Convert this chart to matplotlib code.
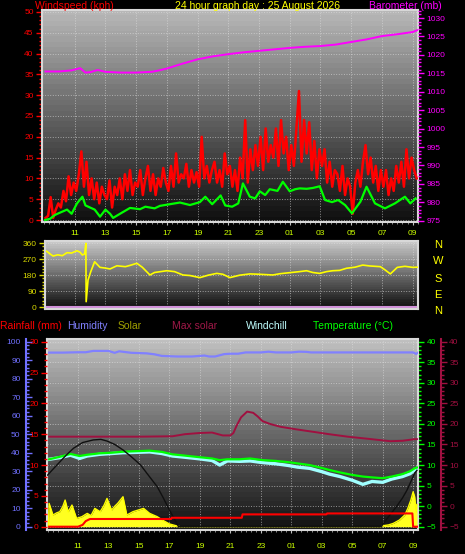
import numpy as np
import matplotlib.pyplot as plt
from matplotlib.ticker import MultipleLocator, FixedLocator

plt.rcParams['font.family'] = ['Liberation Sans', 'DejaVu Sans']

# ---------------- data (hours of day, values > 24 are the next morning)
# wind gust (kph), one reading every 10 minutes from 09:06
gust = [0.5, 1.0, 5.5, 0.5, 2.5, 4.0,
        3.0, 7.0, 4.5, 10.5, 6.0, 9.0,
        7.0, 11.0, 16.5, 8.0, 14.0, 6.0,
        10.0, 5.0, 9.0, 4.0, 8.0, 6.0,
        5.0, 9.5, 3.0, 8.0, 6.0, 10.0,
        5.0, 11.0, 7.0, 12.0, 6.0, 9.0,
        8.0, 12.0, 6.0, 10.0, 13.0, 7.0,
        11.0, 6.0, 10.0, 8.0, 12.5, 9.0,
        7.0, 13.0, 8.0, 16.0, 9.0, 11.0,
        10.0, 13.5, 8.0, 12.0, 9.0, 11.5,
        8.0, 20.0, 10.0, 13.0, 9.0, 12.0,
        14.0, 9.0, 12.0, 8.0, 16.0, 11.0,
        13.0, 8.0, 12.0, 7.0, 15.0, 10.0,
        24.0, 9.0, 17.0, 12.0, 18.0, 13.0,
        20.0, 12.0, 22.0, 14.0, 18.0, 15.0,
        22.0, 13.0, 24.0, 16.0, 20.0, 12.0,
        18.0, 13.0, 22.0, 31.0, 14.0, 24.0,
        16.0, 23.5, 12.0, 19.0, 10.0, 17.0,
        13.0, 17.0, 9.0, 14.0, 8.0, 12.0,
        11.0, 7.0, 13.0, 6.0, 10.0, 8.0,
        1.5, 9.0, 12.0, 8.0, 14.0, 18.0,
        11.0, 15.0, 9.0, 13.0, 7.0, 12.0,
        8.0, 12.0, 6.0, 10.0, 7.0, 13.0,
        9.0, 14.0, 8.0, 17.0, 10.0, 15.0,
        12.0, 10.0]
gust_t = 9.1 + np.arange(len(gust)) / 6

avg_t = [9.07, 9.4, 9.7, 10.0, 10.5, 10.8, 11.15, 11.5, 11.7, 12.0, 12.3, 12.65,
         13.0, 13.3, 13.5, 13.95, 14.6, 15.25, 15.6, 16.2, 16.55, 17.2, 17.85,
         18.5, 19.15, 19.5, 19.95, 20.5, 20.8, 21.25, 21.65, 21.95, 22.4, 22.75,
         23.05, 23.4, 23.7, 24.2, 24.55, 25.0, 25.35, 25.65, 26.1, 26.5, 26.95,
         27.3, 27.75, 28.15, 28.6, 29.05, 29.6, 30.0, 30.55, 31.2, 31.85, 32.5,
         32.85, 33.2]
avg_speed = [0.0, 0.3, 1.2, 1.7, 2.5, 1.5, 4.0, 5.6, 3.5, 3.0, 2.5, 0.8,
             2.5, 1.5, 0.5, 1.5, 2.9, 2.6, 3.2, 2.8, 3.4, 3.8, 4.2,
             3.6, 4.3, 5.6, 3.8, 5.9, 3.5, 3.2, 4.0, 8.8, 5.6, 5.2,
             6.9, 6.0, 7.4, 7.0, 9.2, 6.9, 7.4, 7.6, 7.5, 7.7, 8.1,
             4.8, 4.3, 4.8, 3.6, 1.6, 4.4, 8.0, 4.0, 2.8, 4.0, 5.6,
             4.0, 5.2]

baro_t = [9.1, 10.0, 10.8, 11.35, 11.7, 12.0, 12.5, 13.0, 14.0, 15.0, 16.0, 16.5,
          17.0, 18.0, 19.0, 20.0, 21.0, 22.0, 23.0, 24.0, 25.0, 26.0, 27.0,
          28.0, 29.0, 30.0, 31.0, 32.0, 33.0, 33.3]
baro = [1015.5, 1015.5, 1015.8, 1016.4, 1015.2, 1015.3, 1015.9, 1015.4, 1015.2,
        1015.2, 1015.4, 1015.8, 1016.3, 1017.6, 1018.8, 1019.6, 1020.2, 1020.7,
        1021.1, 1021.5, 1021.9, 1022.2, 1022.4, 1022.8, 1023.5, 1024.2, 1025.1,
        1025.6, 1026.2, 1026.7]

dir_t = [9.18, 9.4, 9.6, 9.9, 10.2, 10.5, 10.8, 11.15, 11.35, 11.5, 11.65, 11.73,
         11.75, 11.87, 12.05, 12.3, 12.65, 13.0, 13.3, 13.75, 14.3, 14.6, 15.05,
         15.4, 15.9, 16.2, 17.0, 17.5, 18.05, 18.5, 19.15, 19.7, 20.25, 20.65,
         21.1, 21.75, 22.4, 23.05, 23.9, 24.35, 25.0, 25.65, 26.1, 26.5, 26.95,
         27.4, 27.8, 28.25, 28.7, 29.25, 29.75, 30.2, 30.9, 31.2, 31.55, 32.0,
         32.5, 33.0, 33.3]
wind_dir = [315, 300, 288, 295, 290, 307, 305, 318, 310, 294, 300, 360,
            30, 152, 200, 256, 224, 220, 215, 233, 228, 235, 247,
            225, 181, 195, 205, 200, 181, 178, 166, 180, 190, 185,
            166, 180, 187, 185, 181, 188, 194, 200, 205, 195, 190,
            200, 205, 207, 219, 225, 237, 232, 228, 210, 187, 224,
            230, 224, 225]

humid_t = [9.1, 10.0, 11.0, 11.5, 12.0, 13.0, 13.4, 13.7, 14.5, 15.5, 16.0, 16.5,
           17.5, 18.5, 19.3, 19.6, 20.0, 20.6, 21.0, 21.5, 22.0, 23.0, 23.5, 24.0,
           25.0, 25.5, 26.0, 26.3, 27.0, 28.0, 29.0, 30.0, 31.0, 32.0, 33.0, 33.2, 33.3]
humidity = [94.1, 94.1, 94.3, 94.3, 95.0, 95.0, 94.0, 94.8, 94.0, 93.7, 93.2, 92.3,
            92.0, 92.0, 92.5, 92.0, 92.0, 93.3, 93.5, 93.5, 94.2, 94.2, 94.6, 94.2,
            94.2, 94.6, 94.5, 94.2, 94.2, 94.2, 94.2, 94.2, 94.2, 94.2, 94.2, 93.4, 94.0]

temp_t = [9.1, 9.8, 10.5, 11.1, 11.6, 12.4, 13.2, 13.95, 15.0, 15.7, 16.5, 17.2,
          18.0, 19.0, 19.8, 20.3, 20.8, 21.6, 22.3, 23.1, 24.0, 24.8, 25.4, 26.2,
          27.0, 27.5, 28.2, 29.0, 29.7, 30.3, 31.0, 31.6, 32.3, 32.8, 33.1, 33.25]
temperature = [11.4, 12.0, 12.7, 12.2, 12.5, 12.85, 13.0, 13.25, 13.4, 13.5, 13.2, 12.6,
               12.3, 11.9, 11.6, 11.2, 11.4, 11.4, 11.6, 11.2, 11.0, 10.7, 10.4, 10.0,
               9.3, 8.8, 8.2, 7.6, 7.2, 7.0, 6.8, 7.2, 7.8, 8.5, 9.2, 9.4]
windchill = [11.4, 11.8, 12.4, 11.6, 12.2, 12.6, 12.8, 13.0, 13.1, 13.2, 12.8, 12.2,
             11.9, 11.5, 11.1, 10.0, 11.0, 10.9, 11.0, 10.6, 10.3, 9.9, 9.5, 9.2,
             8.4, 7.8, 7.2, 6.3, 5.3, 6.0, 5.8, 6.6, 7.2, 7.9, 8.8, 9.2]

red2_t = [9.1, 12.0, 15.0, 17.2, 18.0, 19.0, 19.8, 20.5, 21.0, 21.2, 21.4, 21.7,
          22.1, 22.5, 22.8, 23.1, 23.6, 24.3, 25.3, 26.4, 27.5, 28.7, 30.0, 31.0,
          31.5, 32.3, 33.1, 33.25]
red2 = [16.9, 16.9, 16.9, 17.0, 17.5, 17.8, 17.9, 17.2, 17.2, 17.8, 19.5, 21.6,
        23.0, 22.7, 21.8, 20.7, 20.0, 19.3, 18.7, 18.1, 17.5, 16.9, 16.4, 16.0,
        15.8, 15.9, 16.3, 16.3]

maxsol_t = [9.0, 9.4, 9.8, 10.2, 10.7, 11.3, 12.0, 12.5, 12.9, 13.4, 13.95, 14.5,
            15.1, 15.6, 16.2, 16.6, 17.0, 17.3, 17.6, 30.9, 31.3, 31.9, 32.3, 32.6,
            33.1, 33.25]
max_solar = [27.9, 31.5, 35.0, 38.5, 42.4, 45.5, 46.9, 47.2, 46.3, 44.5, 41.5, 37.8,
             33.4, 28.0, 21.6, 15.5, 9.0, 4.5, 0.0, 0.0, 4.5, 10.8, 15.5, 19.8,
             28.9, 30.5]

solar_t = [9.05, 9.1, 9.35, 9.6, 9.8, 10.0, 10.15, 10.35, 10.6, 10.9, 11.25, 11.6,
           11.85, 12.1, 12.45, 12.7, 12.9, 13.2, 13.4, 13.6, 13.95, 14.2, 14.6, 14.95,
           15.3, 15.7, 16.2, 16.6, 17.0, 17.4, 17.7, 30.9, 31.0, 31.4, 31.7, 32.1,
           32.45, 32.65, 32.85, 33.0, 33.1, 33.2, 33.25]
solar = [0, 12.6, 6.3, 7.5, 8.1, 11.0, 14.4, 8.1, 11.7, 4.5, 5.4, 7.2,
         6.0, 9.9, 8.1, 11.5, 15.3, 9.0, 11.0, 12.6, 16.2, 6.3, 8.1, 9.0,
         9.9, 7.2, 5.4, 3.3, 1.5, 0.6, 0.0, 0.0, 0.5, 1.0, 1.8, 3.6,
         6.3, 9.9, 14.4, 18.9, 16.2, 8.0, 12.0]

rain_t = [9.1, 11.0, 11.3, 11.5, 11.7, 11.8, 17.1, 17.15, 21.75, 21.8, 27.3, 27.35,
          32.95, 33.0, 33.3]
rain = [0, 0, 0.3, 0.9, 1.15, 1.25, 1.25, 1.45, 1.45, 2.0, 2.0, 2.15, 2.15, 0, 0]

hour_ticks = np.arange(11, 34, 2)
hour_labels = ['%02d' % (h % 24) for h in hour_ticks]

W, H = 465, 554
TICK_GREEN = '#ccff00'
FRAME = '#d8d8d8'


def box(l, t, r, b):
    return [l / W, 1 - b / H, (r - l) / W, (b - t) / H]


def gradient(ax, top, bottom):
    g = np.linspace(top, bottom, 40).reshape(-1, 1)
    ax.imshow(g, cmap='gray', vmin=0, vmax=255, aspect='auto', extent=[0, 1, 0, 1],
              transform=ax.transAxes, interpolation='nearest', zorder=0)


def frame(ax):
    ax.set_axisbelow(True)
    for s in ax.spines.values():
        s.set_color(FRAME)
        s.set_linewidth(1.5)
    ax.grid(True, which='major', color='#e0e0e0', linestyle=':', linewidth=0.7, alpha=0.6)


def hide_spines(ax, keep=()):
    for k, s in ax.spines.items():
        s.set_visible(k in keep)


def yticks(ax, color, major, minor, direction='out'):
    ax.yaxis.set_major_locator(MultipleLocator(major))
    ax.yaxis.set_minor_locator(MultipleLocator(minor))
    ax.tick_params(axis='y', which='major', colors=color, labelsize=6, length=4,
                   width=1, pad=2, direction=direction)
    ax.tick_params(axis='y', which='minor', colors=color, length=2, width=1,
                   direction=direction)


def xticks(ax, labels=True, pad=3):
    ax.xaxis.set_major_locator(FixedLocator(hour_ticks))
    ax.xaxis.set_minor_locator(MultipleLocator(1 / 3))
    ax.set_xticklabels(hour_labels)
    ax.tick_params(axis='x', which='major', colors='#c0c0c0', labelcolor=TICK_GREEN,
                   labelsize=6, length=2, pad=pad, labelbottom=labels)
    ax.tick_params(axis='x', which='minor', colors='#a0a0a0', length=1.5)


fig = plt.figure(figsize=(W / 100, H / 100), dpi=100, facecolor='black')

# ---------------- wind speed / barometer
ax1 = fig.add_axes(box(42, 10, 418, 222))
ax1b = ax1.twinx()
gradient(ax1, 182, 16)
frame(ax1)
ax1.plot(gust_t, gust, color='#ff0000', lw=1.8, zorder=3)
ax1.plot(avg_t, avg_speed, color='#00ff00', lw=1.6, zorder=4)
ax1b.plot(baro_t, baro, color='#ff00ff', lw=1.4)
ax1.set_xlim(8.87, 33.35)
ax1.set_ylim(-0.48, 50.48)
ax1b.set_ylim(974.65, 1032.18)
yticks(ax1, '#ff0000', 5, 1)
yticks(ax1b, '#ff00ff', 5, 1)
ax1b.set_yticks(np.arange(975, 1031, 5))
ax1.set_yticks(np.arange(0, 51, 5))
hide_spines(ax1b)
xticks(ax1, pad=4)

# ---------------- wind direction
ax2 = fig.add_axes(box(45, 241, 418, 309))
gradient(ax2, 200, 14)
frame(ax2)
ax2.axhline(0, color='#d090d8', lw=1.5, zorder=2)
ax2.plot(dir_t, wind_dir, color='#ffff00', lw=1.2, zorder=3)
ax2.set_xlim(9.07, 33.35)
ax2.set_ylim(-11.3, 373)
yticks(ax2, '#d8d800', 90, 18)
ax2.set_yticks(np.arange(0, 361, 90))
xticks(ax2, labels=False)
ax2.tick_params(axis='x', which='both', length=0)
for letter, y in zip(['N', 'W', 'S', 'E', 'N'], [245, 261, 279, 295, 311]):
    fig.text(438 / W, 1 - y / H, letter, color='#ffff00', fontsize=8,
             ha='center', va='center')

# ---------------- rain / humidity / solar / temperature
ax3 = fig.add_axes(box(47, 339, 418, 530))
axh = ax3.twinx()
axr = ax3.twinx()
axm = ax3.twinx()
gradient(ax3, 190, 18)
frame(ax3)
for a in (axh, axr, axm):
    a.set_xlim(8.96, 33.32)

t_lim = (-5.8, 40.66)
ax3.set_ylim(*t_lim)
axm.set_ylim(*t_lim)
axh.set_ylim(-1.78, 101.46)
axr.set_ylim(-0.535, 30.44)

axh.fill_between(solar_t, solar, 0, color='#ffff20', lw=0, zorder=2)
axh.plot(solar_t, solar, color='#ffff00', lw=1.0, zorder=2)
axh.plot(maxsol_t, max_solar, color='#101010', lw=1.0, zorder=3)
axh.plot(humid_t, humidity, color='#8080ff', lw=1.6, zorder=3)
ax3.plot(red2_t, red2, color='#a01040', lw=1.4, zorder=3)
ax3.plot(temp_t, windchill, color='#a0ffff', lw=2.4, zorder=3)
ax3.plot(temp_t, temperature, color='#00ff00', lw=1.6, zorder=4)
axr.plot(rain_t, rain, color='#ff0000', lw=1.5, zorder=4)

ax3.yaxis.tick_right()
yticks(ax3, '#00ff00', 5, 1)
ax3.set_yticks(np.arange(-5, 41, 5))

axm.yaxis.tick_right()
hide_spines(axm, keep=('right',))
axm.spines['right'].set_position(('outward', 16.5))
axm.spines['right'].set_color('#a01040')
axm.spines['right'].set_linewidth(1.5)
yticks(axm, '#a01040', 5, 1)
axm.set_yticks(np.arange(-5, 41, 5))

axh.yaxis.tick_left()
hide_spines(axh, keep=('left',))
axh.spines['left'].set_position(('outward', 15))
axh.spines['left'].set_color('#7070ff')
axh.spines['left'].set_linewidth(1.5)
yticks(axh, '#7070ff', 10, 2, direction='in')
axh.set_yticks(np.arange(0, 101, 10))
axh.tick_params(axis='y', which='major', pad=4)

axr.yaxis.tick_left()
hide_spines(axr)
yticks(axr, '#ff0000', 5, 1)
axr.set_yticks(np.arange(0, 31, 5))

ax3.set_xlim(8.96, 33.32)
xticks(ax3, pad=7)

# ---------------- titles and legend labels
def label(x, y, s, color, ha='left'):
    fig.text(x / W, 1 - y / H, s, color=color, fontsize=7.5, ha=ha, va='center')


label(35, 6, 'Windspeed (kph)', '#ff0000')
label(257, 6, '24 hour graph day : 25 August 2026', '#ffff00', ha='center')
label(442, 6, 'Barometer (mb)', '#ff00ff', ha='right')

label(0, 326, 'Rainfall (mm)', '#ff0000')
label(67, 326, 'Humidity', '#8080ff')
label(118, 326, 'Solar', '#a0a000')
label(172, 326, 'Max solar', '#a01848')
label(246, 326, 'Windchill', '#c0ffff')
label(313, 326, 'Temperature (°C)', '#00ff00')

fig.savefig('out.png', dpi=100, facecolor='black')
